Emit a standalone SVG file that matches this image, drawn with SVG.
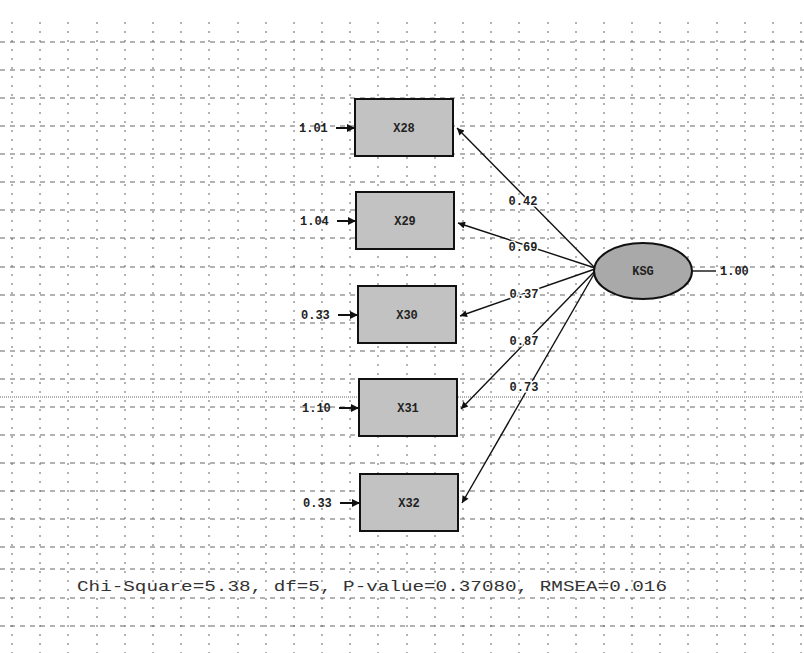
<svg xmlns="http://www.w3.org/2000/svg" width="804" height="653" viewBox="0 0 804 653">
<style>
.gh{stroke:#666;stroke-width:1;stroke-dasharray:5,5;fill:none}
.gv{stroke:#666;stroke-width:1;stroke-dasharray:2,7;fill:none}
.box{fill:#c2c2c2;stroke:#111;stroke-width:2}
.lat{fill:#a9a9a9;stroke:#111;stroke-width:2}
.lbl{font-family:"Liberation Mono",monospace;font-size:12px;font-weight:bold;fill:#222;text-anchor:middle}
.num{font-family:"Liberation Mono",monospace;font-size:12px;font-weight:bold;fill:#222}
.load{font-family:"Liberation Mono",monospace;font-size:12px;font-weight:bold;fill:#222;text-anchor:middle;paint-order:stroke;stroke:#fff;stroke-width:3}
.con{stroke:#111;stroke-width:1.4;fill:none}
.err{stroke:#111;stroke-width:2;fill:none}
</style>
<defs>
<marker id="ah" viewBox="0 0 10 10" refX="10" refY="5" markerWidth="10" markerHeight="7" markerUnits="userSpaceOnUse" orient="auto">
<path d="M0,0 L10,5 L0,10 z" fill="#111"/>
</marker>
<marker id="eh" viewBox="0 0 10 10" refX="10" refY="5" markerWidth="9" markerHeight="8" markerUnits="userSpaceOnUse" orient="auto">
<path d="M0,0 L10,5 L0,10 z" fill="#111"/>
</marker>
</defs>
<rect width="804" height="653" fill="#fff"/>
<g id="grid">
<path class="gh" d="M0,42H804M0,70H804M0,98H804M0,126H804M0,154H804M0,182H804M0,210H804M0,238H804M0,267H804M0,295H804M0,323H804M0,351H804M0,379H804M0,407H804M0,435H804M0,463H804M0,491H804M0,519H804M0,547H804M0,569H804M0,598H804M0,626H804"/>
<path class="gv" d="M12,22V653M40,22V653M68,22V653M97,22V653M125,22V653M153,22V653M181,22V653M209,22V653M238,22V653M266,22V653M294,22V653M322,22V653M350,22V653M378,22V653M407,22V653M435,22V653M463,22V653M491,22V653M519,22V653M548,22V653M576,22V653M604,22V653M632,22V653M660,22V653M688,22V653M717,22V653M745,22V653M773,22V653M801,22V653"/>
<path d="M0,397H804" stroke="#666" stroke-width="1" stroke-dasharray="1,1"/>
</g>
<g id="connectors">
<path class="con" d="M595,268 L457,128" marker-end="url(#ah)"/>
<path class="con" d="M595,268 L458,223" marker-end="url(#ah)"/>
<path class="con" d="M595,269 L460,316" marker-end="url(#ah)"/>
<path class="con" d="M594,272 L461,409" marker-end="url(#ah)"/>
<path class="con" d="M594,274 L462,503" marker-end="url(#ah)"/>
<path class="con" d="M692,271 L716,271"/>
<path class="err" d="M336,128 L355,128" marker-end="url(#eh)"/>
<path class="err" d="M337,221 L356,221" marker-end="url(#eh)"/>
<path class="err" d="M338,315 L358,315" marker-end="url(#eh)"/>
<path class="err" d="M339,408 L359,408" marker-end="url(#eh)"/>
<path class="err" d="M340,503 L360,503" marker-end="url(#eh)"/>
<text class="load" x="523" y="205">0.42</text>
<text class="load" x="523" y="251">0.69</text>
<text class="load" x="524" y="298">0.37</text>
<text class="load" x="524" y="345">0.87</text>
<text class="load" x="524" y="391">0.73</text>
</g>
<g id="X28">
<rect class="box" x="355" y="99" width="98" height="57"/>
<text class="lbl" x="404" y="132">X28</text>
<text class="num" x="299" y="132">1.01</text>
</g>
<g id="X29">
<rect class="box" x="356" y="192" width="98" height="57"/>
<text class="lbl" x="405" y="225">X29</text>
<text class="num" x="300" y="225">1.04</text>
</g>
<g id="X30">
<rect class="box" x="358" y="286" width="98" height="57"/>
<text class="lbl" x="407" y="319">X30</text>
<text class="num" x="301" y="319">0.33</text>
</g>
<g id="X31">
<rect class="box" x="359" y="379" width="98" height="57"/>
<text class="lbl" x="408" y="412">X31</text>
<text class="num" x="302" y="412">1.10</text>
</g>
<g id="X32">
<rect class="box" x="360" y="474" width="98" height="57"/>
<text class="lbl" x="409" y="507">X32</text>
<text class="num" x="303" y="507">0.33</text>
</g>
<g id="latent">
<ellipse class="lat" cx="643" cy="271" rx="49" ry="28"/>
<text class="lbl" x="643" y="275">KSG</text>
<text class="num" x="720" y="275">1.00</text>
</g>
<g id="fit">
<text x="77" y="591" font-family="'Liberation Mono',monospace" font-size="15" fill="#333" textLength="590" lengthAdjust="spacingAndGlyphs">Chi-Square=5.38, df=5, P-value=0.37080, RMSEA=0.016</text>
</g>
</svg>
